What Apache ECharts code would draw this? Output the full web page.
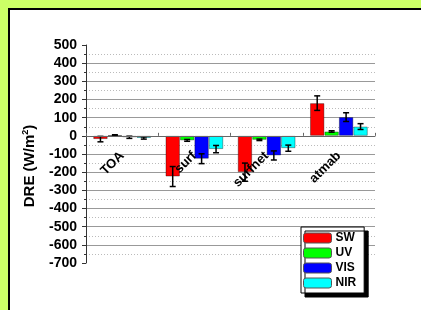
<!DOCTYPE html>
<html>
<head>
<meta charset="utf-8">
<script src="https://cdn.jsdelivr.net/npm/echarts@6/dist/echarts.min.js"></script>
<style>
  html, body { margin: 0; padding: 0; background: #ccff66; }
  #frame {
    position: absolute; left: 8px; top: 8px; width: 420px; height: 320px;
    background: #fff; border-left: 2px solid #000; border-top: 2px solid #000;
  }
  #chart { position: absolute; left: 0; top: 0; width: 421px; height: 310px; }
</style>
</head>
<body>
<div id="frame"></div>
<div id="chart"></div>
<script>
  // 类别与数值
  let categories = ['TOA', 'surf', 'surfnet', 'atmab']
  let seriesNames = ['SW', 'UV', 'VIS', 'NIR']
  let colors = ['#ff0000', '#00ff00', '#0000ff', '#00ffff']
  let sw = [-18, -224, -200, 180]
  let swErr = [15, 55, 50, 40]
  let uv = [3, -25, -22, 24]
  let uvErr = [3, 5, 4, 4]
  let vis = [-8, -126, -108, 103]
  let visErr = [6, 27, 25, 24]
  let nir = [-12, -73, -68, 51]
  let nirErr = [6, 20, 17, 16]
  let yTicks = [-700, 500, 100] // min, max, interval

  let values = [sw, uv, vis, nir]
  let errors = [swErr, uvErr, visErr, nirErr]
  let catGap = 0.2

  let gridTop = 45
  let gridBottom = 47
  let chartH = 310

  let myChart = echarts.init(document.getElementById('chart'), null, { renderer: 'canvas' })

  let series = []
  for (let i = 0; i < seriesNames.length; i++) {
    series.push({
      name: seriesNames[i],
      type: 'bar',
      barGap: '0%',
      barCategoryGap: (catGap * 100) + '%',
      itemStyle: { color: colors[i], borderColor: 'rgba(0,0,0,0.35)', borderWidth: 1 },
      data: values[i]
    })
  }
  // 误差线
  let errData = []
  for (let i = 0; i < seriesNames.length; i++) {
    for (let j = 0; j < categories.length; j++) {
      errData.push([j, values[i][j] + errors[i][j], values[i][j] - errors[i][j], i])
    }
  }
  series.push({
    type: 'custom',
    z: 5,
    silent: true,
    encode: { x: 0, y: [1, 2] },
    data: errData,
    renderItem: function (params, api) {
      let cat = api.value(0)
      let idx = api.value(3)
      let catW = api.size([1, 0])[0]
      let bw = catW * (1 - catGap) / seriesNames.length
      let top = api.coord([cat, api.value(1)])
      let bot = api.coord([cat, api.value(2)])
      let x = top[0] + (idx - 1.5) * bw
      let cap = 3
      let style = { stroke: '#000', lineWidth: 1.5 }
      return {
        type: 'group',
        children: [
          { type: 'line', shape: { x1: x, y1: top[1], x2: x, y2: bot[1] }, style: style },
          { type: 'line', shape: { x1: x - cap, y1: top[1], x2: x + cap, y2: top[1] }, style: style },
          { type: 'line', shape: { x1: x - cap, y1: bot[1], x2: x + cap, y2: bot[1] }, style: style }
        ]
      }
    }
  })

  // x轴放在0值处（标签也跟着）
  let plotH = chartH - gridTop - gridBottom
  let zeroOffset = -plotH * (0 - yTicks[0]) / (yTicks[1] - yTicks[0])

  let option = {
    animation: false,
    grid: { left: 86, right: 46, top: gridTop, bottom: gridBottom, containLabel: false, outerBoundsMode: 'none' },
    legend: {
      data: seriesNames,
      orient: 'vertical',
      left: 301,
      top: 227,
      itemWidth: 28,
      itemHeight: 10,
      itemGap: 3,
      padding: [5, 8, 4, 2],
      backgroundColor: '#fff',
      borderColor: '#000',
      borderWidth: 1,
      borderRadius: 0,
      shadowColor: '#000',
      shadowBlur: 0,
      shadowOffsetX: 4,
      shadowOffsetY: 4,
      itemStyle: { borderColor: '#555', borderWidth: 1 },
      textStyle: { fontFamily: 'Liberation Sans, Arial', fontWeight: 'bold', fontSize: 12, lineHeight: 12, color: '#000', padding: [0, 0, 0, -1] }
    },
    xAxis: {
      type: 'category',
      data: categories,
      z: 10,
      position: 'bottom',
      offset: zeroOffset,
      axisLine: { onZero: false, lineStyle: { color: '#666', width: 1 } },
      axisTick: { show: true, inside: true, length: 3, lineStyle: { color: '#666' } },
      axisLabel: {
        rotate: 45,
        margin: 18,
        fontFamily: 'Liberation Sans, Arial',
        fontWeight: 'bold',
        fontSize: 13,
        color: '#000'
      },
      splitLine: { show: false }
    },
    yAxis: {
      type: 'value',
      min: yTicks[0],
      max: yTicks[1],
      interval: yTicks[2],
      name: 'DRE (W/m{sup|2})',
      nameLocation: 'middle',
      nameRotate: 90,
      nameGap: 48,
      nameTextStyle: {
        fontFamily: 'Liberation Sans, Arial',
        fontWeight: 'bold',
        fontSize: 15,
        color: '#000',
        padding: [0, 24, 0, 0],
        rich: {
          sup: { fontFamily: 'Liberation Sans, Arial', fontWeight: 'bold', fontSize: 9, verticalAlign: 'top', padding: [0, 0, 8, 0] }
        }
      },
      axisLine: { show: true, lineStyle: { color: '#333', width: 1 } },
      axisTick: { show: true, length: 4, lineStyle: { color: '#333' } },
      minorTick: { show: true, splitNumber: 2, length: 2, lineStyle: { color: '#333' } },
      axisLabel: {
        margin: 9,
        fontFamily: 'Liberation Sans, Arial',
        fontWeight: 'bold',
        fontSize: 14,
        color: '#000'
      },
      splitLine: { show: true, showMinLine: false, showMaxLine: false, lineStyle: { color: '#999', width: 1 } },
      minorSplitLine: { show: true, lineStyle: { color: '#bbb', type: [1, 2], width: 1 } }
    },
    series: series
  }
  myChart.setOption(option)
</script>
</body>
</html>
